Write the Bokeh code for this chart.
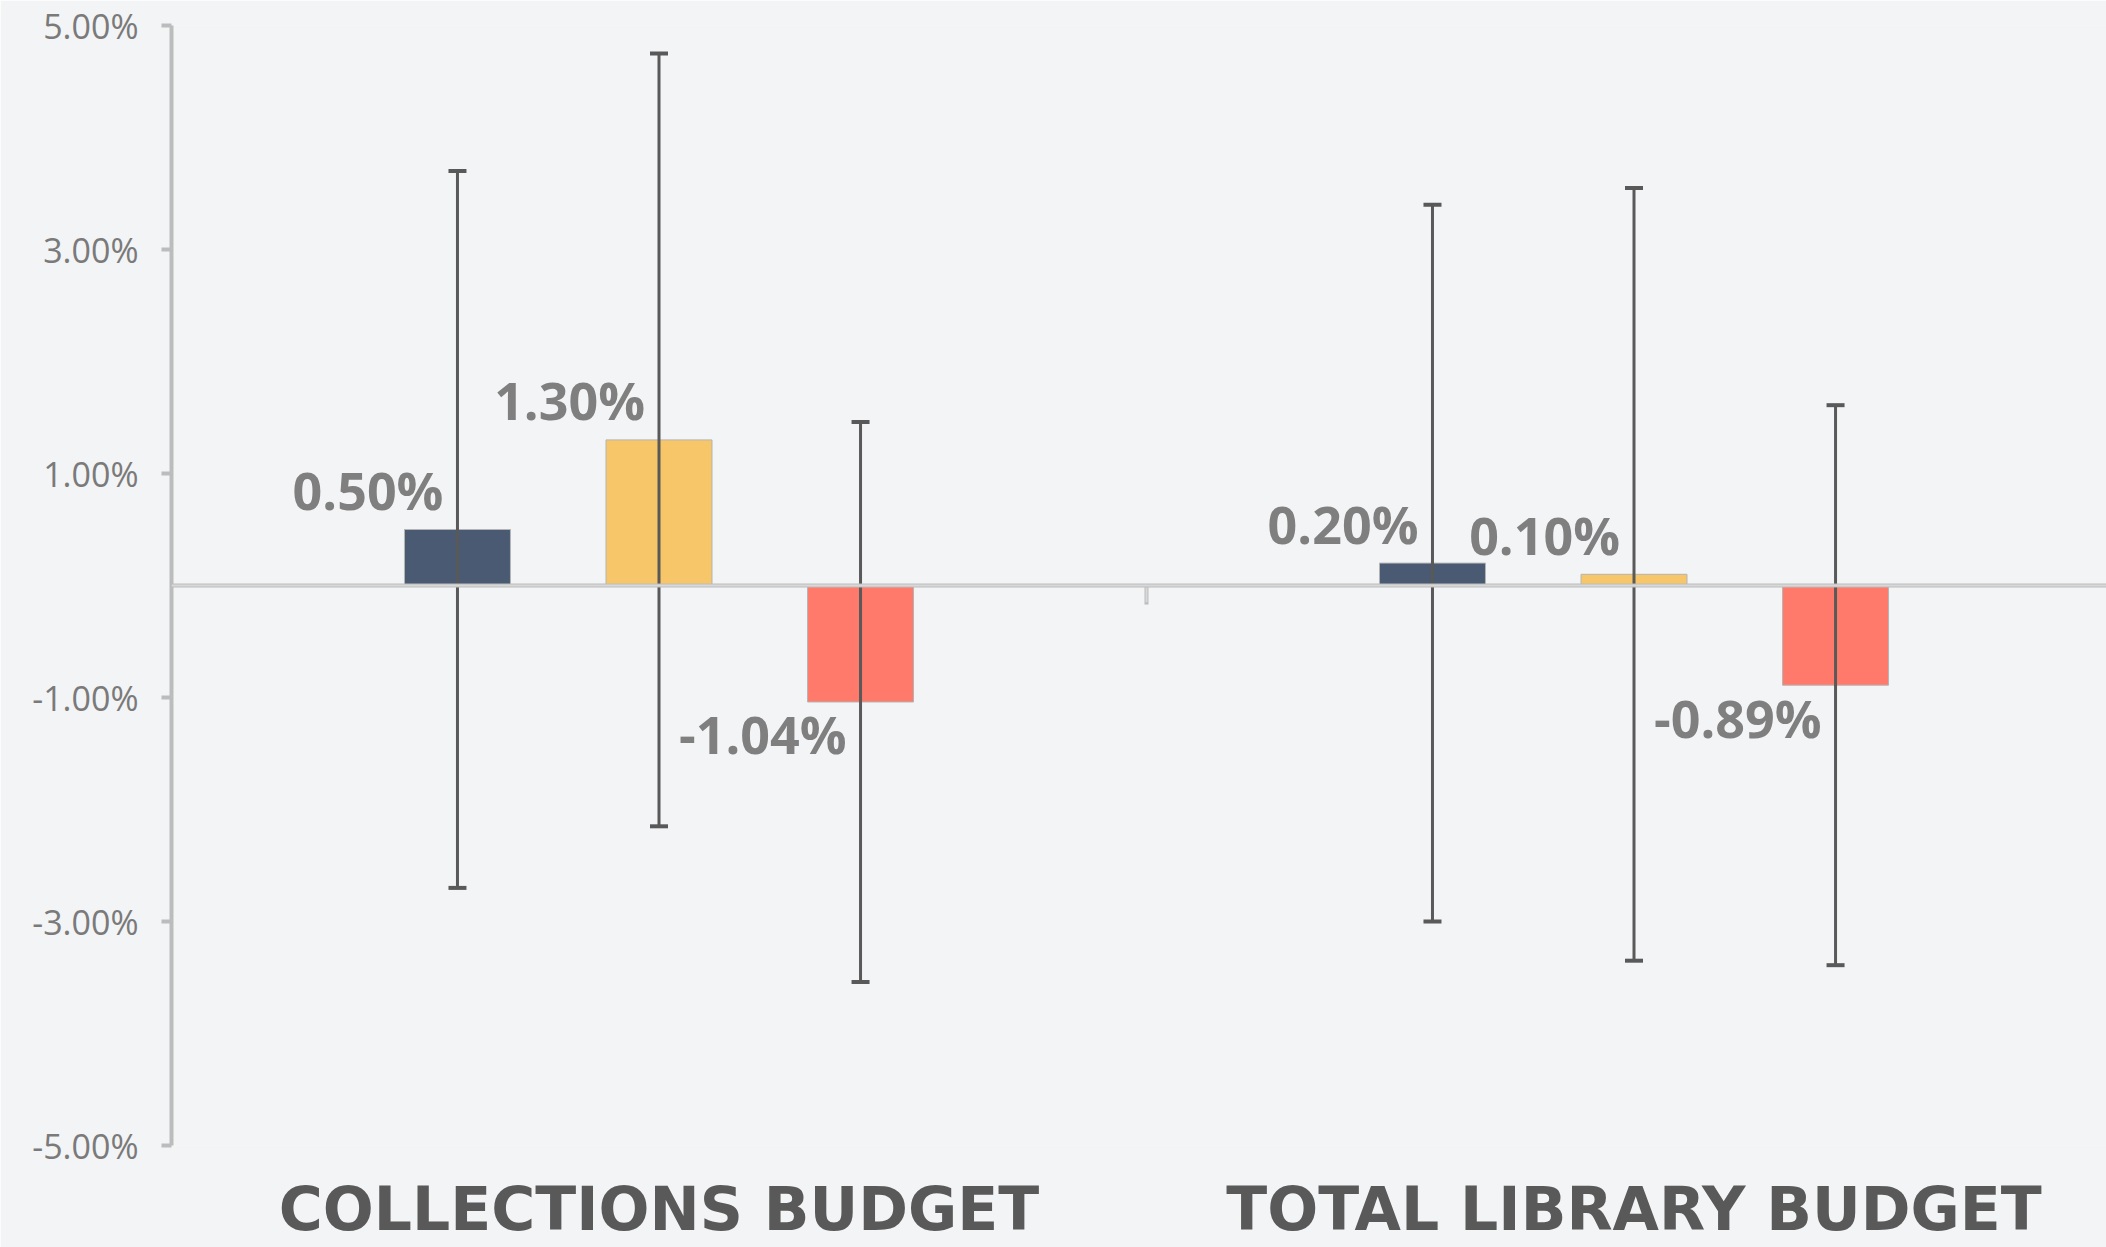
from bokeh.plotting import figure
from bokeh.models import (ColumnDataSource, Whisker, TeeHead, Span, FixedTicker,
                          PrintfTickFormatter, Range1d)
from bokeh.core.properties import value
from bokeh.embed import file_html
from bokeh.resources import INLINE

# ---------------- data ----------------
categories = ["COLLECTIONS BUDGET", "TOTAL LIBRARY BUDGET"]
series_colors = ["#495a72", "#f6c668", "#ff7a6a"]
series_navy = [0.50, 0.20]
series_yellow = [1.30, 0.10]
series_red = [-1.04, -0.89]
err_navy = [3.20, 3.20]
err_yellow = [3.45, 3.45]
err_red = [2.50, 2.50]
y_ticks = [-5, -3, -1, 1, 3, 5]

all_series = [series_navy, series_yellow, series_red]
all_errs = [err_navy, err_yellow, err_red]

# ---------------- layout helpers ----------------
offsets = [-0.2067, 0.0, 0.2067]
bar_w = 0.1087

xs, tops, cols, ups, lows, labels, loffs = [], [], [], [], [], [], []
for si, (vals, errs) in enumerate(zip(all_series, all_errs)):
    for ci, v in enumerate(vals):
        x = ci + 0.5 + offsets[si]
        xs.append(x)
        tops.append(v)
        cols.append(series_colors[si])
        ups.append(v + errs[ci])
        lows.append(v - errs[ci])
        labels.append(f"{v:.2f}%")
        loffs.append(-40 if v >= 0 else 32)

src = ColumnDataSource(dict(x=xs, top=tops, color=cols, upper=ups, lower=lows,
                            label=labels, yoff=loffs))

BG = "#f3f4f6"
p = figure(width=2106, height=1247, output_backend="svg", toolbar_location=None,
           x_range=Range1d(0, 1.9846), y_range=Range1d(-5, 5),
           min_border_left=171, min_border_right=0, min_border_top=25,
           min_border_bottom=102)
p.background_fill_color = BG
p.border_fill_color = BG
p.outline_line_color = None
p.grid.visible = False

# bars
p.vbar(x="x", top="top", bottom=0, width=bar_w, source=src, fill_color="color",
       line_color="#b4b4b4", line_width=1)

# error bars
head_kw = dict(size=18, line_width=4, line_color="#595959")
wh = Whisker(base="x", upper="upper", lower="lower", source=src,
             line_color="#595959", line_width=3, level="annotation",
             upper_head=TeeHead(**head_kw), lower_head=TeeHead(**head_kw))
p.add_layout(wh)

# zero line
p.add_layout(Span(location=0, dimension="width", line_color="#bcbcbc", line_width=4))
p.add_layout(Span(location=0, dimension="width", line_color="#d8d8d8", line_width=2))

# category separator tick
bx = [float(i) for i in range(1, len(categories))]
p.segment(x0=bx, y0=[0] * len(bx), x1=bx, y1=[-0.17] * len(bx),
          line_color="#bcbcbc", line_width=4)
p.segment(x0=bx, y0=[0] * len(bx), x1=bx, y1=[-0.15] * len(bx),
          line_color="#d8d8d8", line_width=2)

# value labels
p.text(x="x", y="top", text="label", source=src, text_align="right",
       text_baseline="middle", x_offset=-14, y_offset="yoff",
       text_font=value("Open Sans"), text_font_style="bold",
       text_font_size="52px", text_color="#7f7f7f")

# y axis
yax = p.yaxis[0]
yax.ticker = FixedTicker(ticks=y_ticks)
yax.formatter = PrintfTickFormatter(format="%.2f%%")
yax.axis_line_color = "#bcbcbc"
yax.axis_line_width = 4
yax.major_tick_line_color = "#bcbcbc"
yax.major_tick_line_width = 4
yax.major_tick_out = 10
yax.major_tick_in = 0
yax.minor_tick_line_color = None
yax.major_label_standoff = 23
yax.major_label_text_font = "Open Sans"
yax.major_label_text_font_size = "34px"
yax.major_label_text_color = "#7a7a7a"

# x axis (category names)
xax = p.xaxis[0]
xax.ticker = FixedTicker(ticks=[i + 0.5 for i in range(len(categories))])
xax.major_label_overrides = {i + 0.5: c for i, c in enumerate(categories)}
xax.axis_line_color = None
xax.major_tick_line_color = None
xax.minor_tick_line_color = None
xax.major_tick_in = 0
xax.major_tick_out = 0
xax.major_label_standoff = 28
xax.major_label_text_line_height = 0.8
xax.major_label_text_font = "DejaVu Sans"
xax.major_label_text_font_style = "bold"
xax.major_label_text_font_size = "60px"
xax.major_label_text_color = "#595959"

open("out.html", "w").write(file_html(p, INLINE))
